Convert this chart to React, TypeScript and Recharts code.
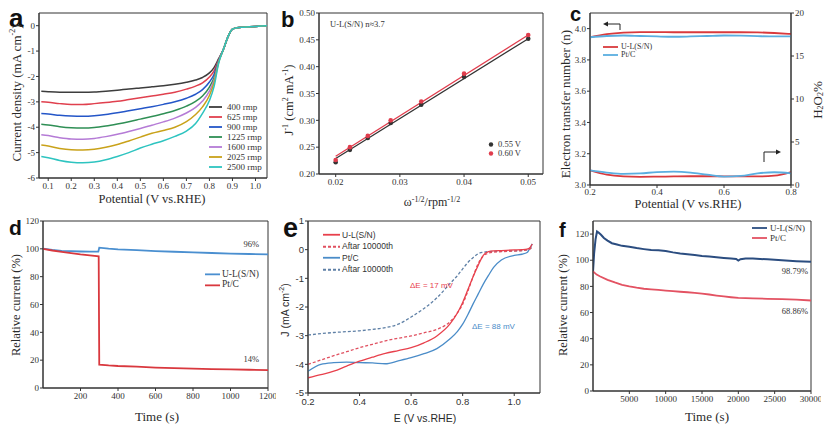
import React from "react";
import {
  ComposedChart,
  Line,
  Scatter,
  XAxis,
  YAxis,
  Legend,
  ReferenceArea,
} from "recharts";

const SERIF = '"Liberation Serif", "Times New Roman", serif';
const SANS = '"Liberation Sans", Arial, sans-serif';
const AX = "#333";

// ---- (a) LSV curves at different rotation rates
const POT_A = [0.07, 0.1, 0.15, 0.2, 0.25, 0.3, 0.35, 0.4, 0.45, 0.5, 0.55, 0.6, 0.65, 0.7, 0.74, 0.77, 0.8, 0.82, 0.84, 0.86, 0.88, 0.9, 0.92, 0.95, 1.0, 1.05];
const J_400 = [-2.58, -2.6, -2.62, -2.62, -2.62, -2.61, -2.58, -2.54, -2.49, -2.45, -2.41, -2.37, -2.31, -2.23, -2.14, -2.04, -1.86, -1.65, -1.3, -0.95, -0.45, -0.14, -0.08, -0.06, -0.03, 0];
const J_625 = [-3.0, -3.02, -3.07, -3.1, -3.1, -3.07, -3.03, -2.98, -2.91, -2.84, -2.77, -2.7, -2.62, -2.5, -2.38, -2.25, -2.02, -1.78, -1.34, -0.95, -0.45, -0.14, -0.08, -0.06, -0.03, 0];
const J_900 = [-3.46, -3.48, -3.53, -3.56, -3.57, -3.55, -3.5, -3.43, -3.35, -3.27, -3.19, -3.1, -3.0, -2.86, -2.7, -2.52, -2.22, -1.92, -1.37, -0.95, -0.45, -0.14, -0.08, -0.06, -0.03, 0];
const J_1225 = [-3.88, -3.91, -3.98, -4.02, -4.03, -4.01, -3.95, -3.87, -3.78, -3.68, -3.58, -3.47, -3.34, -3.17, -2.98, -2.77, -2.42, -2.05, -1.4, -0.95, -0.45, -0.14, -0.08, -0.06, -0.03, 0];
const J_1600 = [-4.3, -4.33, -4.41, -4.46, -4.47, -4.44, -4.37, -4.28, -4.17, -4.05, -3.92, -3.79, -3.64, -3.44, -3.22, -2.97, -2.58, -2.15, -1.42, -0.95, -0.45, -0.14, -0.08, -0.06, -0.03, 0];
const J_2025 = [-4.7, -4.74, -4.84, -4.89, -4.9, -4.87, -4.79, -4.68, -4.54, -4.39, -4.24, -4.13, -4.0, -3.78, -3.5, -3.2, -2.75, -2.25, -1.45, -0.95, -0.45, -0.14, -0.08, -0.06, -0.03, 0];
const J_2500 = [-5.15, -5.2, -5.31, -5.38, -5.4, -5.37, -5.28, -5.15, -5.0, -4.82, -4.67, -4.53, -4.36, -4.15, -3.85, -3.45, -2.95, -2.4, -1.48, -0.95, -0.45, -0.14, -0.08, -0.06, -0.03, 0];
const RPM_SERIES = [J_400, J_625, J_900, J_1225, J_1600, J_2025, J_2500];
const RPM_LABELS = ["400 rmp", "625 rmp", "900 rmp", "1225 rmp", "1600 rmp", "2025 rmp", "2500 rmp"];
const RPM_COLORS = ["#3d3d3d", "#e0404e", "#2456c8", "#2f8f55", "#b57bd6", "#c9a21a", "#2ec4c0"];

// ---- (b) K-L plots
const OMEGA_B = [0.02, 0.02222, 0.025, 0.02857, 0.03333, 0.04, 0.05];
const JINV_055 = [0.222, 0.245, 0.267, 0.295, 0.329, 0.381, 0.452];
const JINV_060 = [0.226, 0.25, 0.271, 0.3, 0.335, 0.387, 0.459];
const FIT_X = [0.02, 0.05];
const FIT_055 = [0.229, 0.452];
const FIT_060 = [0.233, 0.459];

// ---- (c) electron transfer number and H2O2 yield
const POT_C = [0.2, 0.25, 0.3, 0.35, 0.4, 0.45, 0.5, 0.55, 0.6, 0.65, 0.7, 0.75, 0.8];
const N_UL = [3.945, 3.965, 3.975, 3.978, 3.978, 3.977, 3.977, 3.977, 3.977, 3.977, 3.976, 3.972, 3.966];
const N_PT = [3.945, 3.953, 3.956, 3.953, 3.95, 3.948, 3.95, 3.953, 3.956, 3.955, 3.952, 3.95, 3.95];
const H2O2_UL = [1.7, 1.2, 1.0, 0.95, 0.97, 1.0, 1.02, 1.02, 1.01, 1.0, 1.0, 1.08, 1.5];
const H2O2_PT = [1.7, 1.45, 1.3, 1.35, 1.5, 1.55, 1.45, 1.2, 0.98, 1.05, 1.35, 1.48, 1.36];

// ---- (d) chronoamperometry with methanol
const TIME_D_UL = [0, 50, 100, 150, 200, 250, 295, 300, 350, 400, 500, 600, 700, 800, 900, 1000, 1100, 1200];
const REL_D_UL = [100.2, 99.2, 98.6, 98.3, 98.1, 98, 98, 100.8, 100.1, 99.6, 99, 98.4, 97.9, 97.4, 97, 96.6, 96.3, 96];
const TIME_D_PT = [0, 50, 100, 150, 200, 250, 297, 300, 350, 400, 500, 600, 700, 800, 900, 1000, 1100, 1200];
const REL_D_PT = [100, 98.8, 97.8, 96.9, 96, 95.3, 94.6, 16.8, 16.2, 15.8, 15.3, 14.7, 14.3, 13.9, 13.6, 13.4, 13.1, 12.9];

// ---- (e) LSV before / after 10000 cycles
const POT_E = [0.2, 0.25, 0.3, 0.35, 0.4, 0.45, 0.5, 0.55, 0.6, 0.65, 0.7, 0.75, 0.78, 0.8, 0.82, 0.84, 0.86, 0.88, 0.9, 0.92, 0.95, 1.0, 1.03, 1.05, 1.06, 1.07];
const J_UL = [-4.47, -4.36, -4.24, -4.06, -3.89, -3.75, -3.62, -3.52, -3.42, -3.25, -3.01, -2.6, -2.2, -1.84, -1.4, -0.95, -0.55, -0.2, -0.07, -0.04, -0.03, -0.01, 0, 0.02, 0.06, 0.2];
const J_UL_AFTER = [-4.0, -3.85, -3.7, -3.56, -3.42, -3.3, -3.18, -3.09, -3.01, -2.9, -2.78, -2.52, -2.2, -1.9, -1.45, -0.95, -0.49, -0.22, -0.12, -0.09, -0.07, -0.05, -0.03, -0.01, 0.02, 0.1];
const J_PT = [-4.24, -4.0, -3.94, -3.92, -3.94, -3.95, -3.98, -3.88, -3.77, -3.63, -3.45, -3.12, -2.85, -2.6, -2.27, -1.9, -1.55, -1.2, -0.9, -0.62, -0.36, -0.2, -0.16, -0.1, 0.04, 0.2];
const J_PT_AFTER = [-2.98, -2.93, -2.89, -2.86, -2.83, -2.78, -2.72, -2.6, -2.35, -2.05, -1.68, -1.19, -0.9, -0.67, -0.45, -0.28, -0.14, -0.09, -0.07, -0.06, -0.05, -0.04, -0.03, -0.01, 0.02, 0.1];

// ---- (f) long-term stability
const TIME_F_UL = [0, 150, 350, 550, 800, 1100, 1500, 2000, 2600, 3300, 4000, 5000, 6000, 7000, 8000, 9000, 10000, 11000, 12000, 13000, 14000, 15000, 16000, 17000, 18000, 19000, 19700, 20000, 20300, 21000, 22000, 23000, 24000, 25000, 26000, 27000, 28000, 29000, 30000];
const REL_F_UL = [91, 105, 116, 122, 121, 119.5, 117, 115, 113, 112, 111, 110.3, 109.3, 108.5, 107.8, 107.6, 107, 106, 105.2, 104.6, 104, 103.3, 102.8, 102.2, 101.7, 101.3, 101, 99.8, 100.8, 101.4, 101.3, 101, 100.7, 100.3, 100, 99.6, 99.3, 99, 98.8];
const TIME_F_PT = [0, 500, 1000, 2000, 3000, 4000, 5000, 6000, 7000, 8000, 9000, 10000, 11000, 12000, 13000, 14000, 15000, 16000, 17000, 18000, 19000, 20000, 22000, 24000, 26000, 28000, 30000];
const REL_F_PT = [91.5, 89, 87.6, 85, 83, 81.2, 80, 79, 78.2, 77.7, 77.3, 76.8, 76.3, 75.9, 75.5, 75, 74.4, 73.8, 73, 72.3, 71.7, 71.2, 70.8, 70.5, 70.2, 69.8, 69.2];

const pairs = (xs: number[], ys: number[]) => xs.map((x, i) => ({ x, y: ys[i] }));

const rowsA = POT_A.map((x, i) => {
  const row: Record<string, number> = { x };
  RPM_SERIES.forEach((s, k) => (row[`r${k}`] = s[i]));
  return row;
});
const rowsC = POT_C.map((x, i) => ({ x, nUL: N_UL[i], nPT: N_PT[i], hUL: H2O2_UL[i], hPT: H2O2_PT[i] }));
const rowsE = POT_E.map((x, i) => ({ x, ul: J_UL[i], ulA: J_UL_AFTER[i], pt: J_PT[i], ptA: J_PT_AFTER[i] }));

type Item = { name: string; color: string; dash?: string; dot?: boolean };

function LegendList({ items, font, size, rowH, lineW, gap }: { items: Item[]; font: string; size: number; rowH: number; lineW: number; gap: number }) {
  return (
    <div style={{ fontFamily: font, fontSize: size, color: "#333" }}>
      {items.map((it) => (
        <div key={it.name + it.color} style={{ display: "flex", alignItems: "center", height: rowH }}>
          <svg width={lineW} height={rowH} style={{ display: "block" }}>
            {it.dot ? (
              <circle cx={lineW / 2} cy={rowH / 2} r={2.2} fill={it.color} />
            ) : (
              <line x1={0} x2={lineW} y1={rowH / 2} y2={rowH / 2} stroke={it.color} strokeWidth={1.8} strokeDasharray={it.dash} />
            )}
          </svg>
          <span style={{ marginLeft: gap, whiteSpace: "nowrap", lineHeight: 1 }}>{it.name}</span>
        </div>
      ))}
    </div>
  );
}

const tickSerif = { fontFamily: SERIF, fontSize: 9, fill: AX };
const tickSans = { fontFamily: SANS, fontSize: 9.5, fill: AX };

const at = (left: number, top: number): React.CSSProperties => ({ position: "absolute", left, top });

const dotShape = (color: string) => (p: any) => <circle cx={p.cx} cy={p.cy} r={2.3} fill={color} />;

export default function App() {
  return (
    <div style={{ position: "absolute", left: 0, top: 0, width: 831, height: 429, background: "#fff", overflow: "hidden" }}>
      {/* a */}
      <div style={at(0, 0)}>
        <ComposedChart width={273} height={200} data={rowsA} margin={{ top: 13, right: 6, left: 0, bottom: 0 }}>
          <XAxis dataKey="x" type="number" domain={[0.06, 1.05]} ticks={[0.1, 0.2, 0.3, 0.4, 0.5, 0.6, 0.7, 0.8, 0.9, 1.0]} interval={0} tickFormatter={(v) => v.toFixed(1)} tick={tickSerif} tickSize={3} stroke={AX} height={22} allowDataOverflow />
          <YAxis type="number" domain={[-6, 0.5]} ticks={[-6, -5, -4, -3, -2, -1, 0]} interval={0} tick={tickSerif} tickSize={3} tickMargin={1} stroke={AX} width={39} allowDataOverflow />
          <ReferenceArea x1={0.06} x2={1.05} y1={-6} y2={0.5} fill="none" stroke={AX} ifOverflow="visible" />
          {RPM_LABELS.map((name, k) => (
            <Line key={name} dataKey={`r${k}`} name={name} type="monotone" stroke={RPM_COLORS[k]} strokeWidth={1.5} dot={false} isAnimationActive={false} />
          ))}
          <Legend
            layout="vertical"
            align="center"
            verticalAlign="middle"
            wrapperStyle={{ left: 209, top: 102, width: "auto" }}
            content={() => (
              <LegendList items={RPM_LABELS.map((n, k) => ({ name: n, color: RPM_COLORS[k] }))} font={SERIF} size={9} rowH={10} lineW={13} gap={5} />
            )}
          />
        </ComposedChart>
      </div>

      {/* b */}
      <div style={at(275, 0)}>
        <ComposedChart width={274} height={202} margin={{ top: 13, right: 6, left: 0, bottom: 0 }}>
          <XAxis dataKey="x" type="number" domain={[0.0174, 0.0523]} ticks={[0.02, 0.03, 0.04, 0.05]} interval={0} tickFormatter={(v) => v.toFixed(2)} tick={tickSerif} tickSize={3} stroke={AX} height={28} allowDataOverflow />
          <YAxis dataKey="y" type="number" domain={[0.2, 0.5]} ticks={[0.2, 0.25, 0.3, 0.35, 0.4, 0.45, 0.5]} interval={0} tickFormatter={(v) => v.toFixed(2)} tick={tickSerif} tickSize={3} tickMargin={1} stroke={AX} width={44} allowDataOverflow />
          <ReferenceArea x1={0.0174} x2={0.0523} y1={0.2} y2={0.5} fill="none" stroke={AX} ifOverflow="visible" />
          <Line data={pairs(FIT_X, FIT_055)} dataKey="y" name="fit 0.55" stroke="#333" strokeWidth={1.3} dot={false} isAnimationActive={false} legendType="none" />
          <Line data={pairs(FIT_X, FIT_060)} dataKey="y" name="fit 0.60" stroke="#e03c4c" strokeWidth={1.3} dot={false} isAnimationActive={false} legendType="none" />
          <Scatter data={pairs(OMEGA_B, JINV_055)} dataKey="y" name="0.55 V" fill="#333" shape={dotShape("#333")} isAnimationActive={false} />
          <Scatter data={pairs(OMEGA_B, JINV_060)} dataKey="y" name="0.60 V" fill="#e03c4c" shape={dotShape("#e03c4c")} isAnimationActive={false} />
          <Legend
            layout="vertical"
            align="center"
            verticalAlign="middle"
            wrapperStyle={{ left: 212, top: 140, width: "auto" }}
            content={() => (
              <LegendList items={[{ name: "0.55 V", color: "#333", dot: true }, { name: "0.60 V", color: "#e03c4c", dot: true }]} font={SERIF} size={8.5} rowH={9} lineW={8} gap={3} />
            )}
          />
        </ComposedChart>
      </div>

      {/* c */}
      <div style={at(550, 0)}>
        <ComposedChart width={269} height={203} data={rowsC} margin={{ top: 13, right: 0, left: 0, bottom: 0 }}>
          <XAxis dataKey="x" type="number" domain={[0.2, 0.8]} ticks={[0.2, 0.4, 0.6, 0.8]} interval={0} tickFormatter={(v) => v.toFixed(1)} tick={tickSerif} tickSize={3} tickMargin={1} stroke={AX} height={18} allowDataOverflow />
          <YAxis yAxisId="n" type="number" domain={[3.0, 4.1]} ticks={[3.0, 3.2, 3.4, 3.6, 3.8, 4.0]} interval={0} tickFormatter={(v) => v.toFixed(1)} tick={tickSerif} tickSize={3} tickMargin={1} stroke={AX} width={40} allowDataOverflow />
          <YAxis yAxisId="h" orientation="right" type="number" domain={[0, 20]} ticks={[0, 5, 10, 15, 20]} interval={0} tick={tickSerif} tickSize={3} tickMargin={1} stroke={AX} width={28} allowDataOverflow />
          <ReferenceArea yAxisId="n" x1={0.2} x2={0.8} y1={3.0} y2={4.1} fill="none" stroke={AX} ifOverflow="visible" />
          <Line yAxisId="n" dataKey="nUL" name="U-L(S/N)" type="monotone" stroke="#d93a3d" strokeWidth={1.8} dot={false} isAnimationActive={false} />
          <Line yAxisId="n" dataKey="nPT" name="Pt/C" type="monotone" stroke="#5aaee0" strokeWidth={1.8} dot={false} isAnimationActive={false} />
          <Line yAxisId="h" dataKey="hUL" name="U-L(S/N) H2O2" type="monotone" stroke="#d93a3d" strokeWidth={1.8} dot={false} isAnimationActive={false} legendType="none" />
          <Line yAxisId="h" dataKey="hPT" name="Pt/C H2O2" type="monotone" stroke="#5aaee0" strokeWidth={1.8} dot={false} isAnimationActive={false} legendType="none" />
          <Legend
            layout="vertical"
            align="center"
            verticalAlign="middle"
            wrapperStyle={{ left: 53, top: 43, width: "auto" }}
            content={() => (
              <LegendList items={[{ name: "U-L(S/N)", color: "#d93a3d" }, { name: "Pt/C", color: "#5aaee0" }]} font={SERIF} size={8} rowH={8} lineW={15} gap={3} />
            )}
          />
        </ComposedChart>
      </div>

      {/* d */}
      <div style={at(0, 210)}>
        <ComposedChart width={276} height={200} margin={{ top: 11, right: 8, left: 0, bottom: 0 }}>
          <XAxis dataKey="x" type="number" domain={[0, 1200]} ticks={[200, 400, 600, 800, 1000, 1200]} interval={0} tick={tickSerif} tickSize={3} stroke={AX} height={22} allowDataOverflow />
          <YAxis type="number" domain={[0, 120]} ticks={[0, 20, 40, 60, 80, 100, 120]} interval={0} tick={tickSerif} tickSize={3} tickMargin={1} stroke={AX} width={43} allowDataOverflow />
          <ReferenceArea x1={0} x2={1200} y1={0} y2={120} fill="none" stroke={AX} ifOverflow="visible" />
          <Line data={pairs(TIME_D_UL, REL_D_UL)} dataKey="y" name="U-L(S/N)" stroke="#4a8fd0" strokeWidth={1.8} dot={false} isAnimationActive={false} />
          <Line data={pairs(TIME_D_PT, REL_D_PT)} dataKey="y" name="Pt/C" stroke="#d9383e" strokeWidth={1.8} dot={false} isAnimationActive={false} />
          <Legend
            layout="vertical"
            align="center"
            verticalAlign="middle"
            wrapperStyle={{ left: 205, top: 59, width: "auto" }}
            content={() => (
              <LegendList items={[{ name: "U-L(S/N)", color: "#4a8fd0" }, { name: "Pt/C", color: "#d9383e" }]} font={SERIF} size={9.5} rowH={10.7} lineW={15} gap={2} />
            )}
          />
        </ComposedChart>
      </div>

      {/* e */}
      <div style={at(275, 210)}>
        <ComposedChart width={273} height={203} data={rowsE} margin={{ top: 11, right: 8, left: 0, bottom: 0 }}>
          <XAxis dataKey="x" type="number" domain={[0.2, 1.1]} ticks={[0.2, 0.4, 0.6, 0.8, 1.0]} interval={0} tickFormatter={(v) => v.toFixed(1)} tick={tickSans} tickSize={3} stroke={AX} height={20} allowDataOverflow />
          <YAxis type="number" domain={[-5, 1]} ticks={[-5, -4, -3, -2, -1, 0, 1]} interval={0} tick={tickSans} tickSize={3} tickMargin={1} stroke={AX} width={33} allowDataOverflow />
          <ReferenceArea x1={0.2} x2={1.1} y1={-5} y2={1} fill="none" stroke={AX} ifOverflow="visible" />
          <Line dataKey="ptA" name="Aftar 10000th (Pt/C)" type="monotone" stroke="#5f80a6" strokeWidth={1.3} strokeDasharray="3 2" dot={false} isAnimationActive={false} />
          <Line dataKey="pt" name="Pt/C" type="monotone" stroke="#4a8cc8" strokeWidth={1.3} dot={false} isAnimationActive={false} />
          <Line dataKey="ulA" name="Aftar 10000th" type="monotone" stroke="#e05060" strokeWidth={1.3} strokeDasharray="3 2" dot={false} isAnimationActive={false} />
          <Line dataKey="ul" name="U-L(S/N)" type="monotone" stroke="#e8404c" strokeWidth={1.3} dot={false} isAnimationActive={false} />
          <Legend
            layout="vertical"
            align="center"
            verticalAlign="middle"
            wrapperStyle={{ left: 48, top: 19, width: "auto" }}
            content={() => (
              <LegendList
                items={[
                  { name: "U-L(S/N)", color: "#e8404c" },
                  { name: "Aftar 10000th", color: "#e05060", dash: "3 2" },
                  { name: "Pt/C", color: "#4a8cc8" },
                  { name: "Aftar 10000th", color: "#5f80a6", dash: "3 2" },
                ]}
                font={SANS}
                size={8.5}
                rowH={11.5}
                lineW={17}
                gap={2}
              />
            )}
          />
        </ComposedChart>
      </div>

      {/* f */}
      <div style={at(550, 210)}>
        <ComposedChart width={271} height={201} margin={{ top: 11, right: 10, left: 0, bottom: 0 }}>
          <XAxis dataKey="x" type="number" domain={[0, 30000]} ticks={[5000, 10000, 15000, 20000, 25000, 30000]} interval={0} tick={tickSerif} tickSize={3} stroke={AX} height={20} allowDataOverflow />
          <YAxis type="number" domain={[0, 130]} ticks={[0, 20, 40, 60, 80, 100, 120]} interval={0} tick={tickSerif} tickSize={3} tickMargin={1} stroke={AX} width={43} allowDataOverflow />
          <ReferenceArea x1={0} x2={30000} y1={0} y2={130} fill="none" stroke={AX} ifOverflow="visible" />
          <Line data={pairs(TIME_F_UL, REL_F_UL)} dataKey="y" name="U-L(S/N)" stroke="#2b4d80" strokeWidth={2} dot={false} isAnimationActive={false} />
          <Line data={pairs(TIME_F_PT, REL_F_PT)} dataKey="y" name="Pt/C" stroke="#e35262" strokeWidth={1.8} dot={false} isAnimationActive={false} />
          <Legend
            layout="vertical"
            align="center"
            verticalAlign="middle"
            wrapperStyle={{ left: 202, top: 13, width: "auto" }}
            content={() => (
              <LegendList items={[{ name: "U-L(S/N)", color: "#2b4d80" }, { name: "Pt/C", color: "#e35262" }]} font={SERIF} size={9} rowH={10} lineW={15} gap={3} />
            )}
          />
        </ComposedChart>
      </div>

      {/* titles, panel letters and annotations */}
      <svg width={831} height={429} style={{ position: "absolute", left: 0, top: 0, pointerEvents: "none" }}>
        <g fontFamily={SANS} fontWeight="bold" fill="#111">
          <text x={9} y={27} fontSize={26}>a</text>
          <text x={281} y={27} fontSize={22}>b</text>
          <text x={570} y={21} fontSize={20}>c</text>
          <text x={9} y={235} fontSize={21}>d</text>
          <text x={283} y={237} fontSize={27}>e</text>
          <text x={559} y={237} fontSize={20}>f</text>
        </g>

        <g fontFamily={SERIF} fill="#2a2a2a" textAnchor="middle">
          <text x={152} y={203} fontSize={12.5}>Potential (V vs.RHE)</text>
          <text x={432} y={206} fontSize={12}>
            <tspan>ω</tspan>
            <tspan dy={-4.5} fontSize={8}>-1/2</tspan>
            <tspan dy={4.5}>/rpm</tspan>
            <tspan dy={-4.5} fontSize={8}>-1/2</tspan>
          </text>
          <text x={688} y={208} fontSize={12.5}>Potential (V vs.RHE)</text>
          <text x={157} y={421} fontSize={13}>Time (s)</text>
          <text x={707} y={421} fontSize={13}>Time (s)</text>

          <text x={16} y={93} fontSize={13} dominantBaseline="central" transform="rotate(-90 16 93)">
            <tspan>Current density (mA cm</tspan>
            <tspan dy={-4.5} fontSize={8}>-2</tspan>
            <tspan dy={4.5}>)</tspan>
          </text>
          <text x={289} y={100} fontSize={12.5} dominantBaseline="central" transform="rotate(-90 289 100)">
            <tspan>J</tspan>
            <tspan dy={-4.5} fontSize={8}>-1</tspan>
            <tspan dy={4.5}> (cm</tspan>
            <tspan dy={-4.5} fontSize={8}>2</tspan>
            <tspan dy={4.5}> mA</tspan>
            <tspan dy={-4.5} fontSize={8}>-1</tspan>
            <tspan dy={4.5}>)</tspan>
          </text>
          <text x={565} y={104} fontSize={13} dominantBaseline="central" transform="rotate(-90 565 104)">
            Electron transfer number (n)
          </text>
          <text x={817} y={100} fontSize={13} dominantBaseline="central" transform="rotate(-90 817 100)">
            <tspan>H</tspan>
            <tspan dy={3} fontSize={8}>2</tspan>
            <tspan dy={-3}>O</tspan>
            <tspan dy={3} fontSize={8}>2</tspan>
            <tspan dy={-3}>%</tspan>
          </text>
          <text x={16} y={305} fontSize={12.5} dominantBaseline="central" transform="rotate(-90 16 305)">
            Relative current (%)
          </text>
          <text x={563} y={305} fontSize={12.5} dominantBaseline="central" transform="rotate(-90 563 305)">
            Relative current (%)
          </text>
        </g>

        <g fontFamily={SANS} fill="#2a2a2a" textAnchor="middle">
          <text x={425} y={422} fontSize={10.5}>E (V vs.RHE)</text>
          <text x={285} y={310} fontSize={10.5} dominantBaseline="central" transform="rotate(-90 285 310)">
            <tspan>J (mA cm</tspan>
            <tspan dy={-4} fontSize={7}>-2</tspan>
            <tspan dy={4}>)</tspan>
          </text>
        </g>

        <g fontFamily={SERIF} fontSize={8.5} fill="#333">
          <text x={330} y={27}>U-L(S/N) n≈3.7</text>
          <text x={259} y={247} textAnchor="end">96%</text>
          <text x={259} y={362} textAnchor="end">14%</text>
          <text x={808} y={274} textAnchor="end">98.79%</text>
          <text x={808} y={314} textAnchor="end">68.86%</text>
        </g>
        <g fontFamily={SANS} fontSize={8}>
          <text x={410} y={288} fill="#e8404c">ΔE = 17 mV</text>
          <text x={472} y={329} fill="#4a8cc8">ΔE = 88 mV</text>
        </g>

        {/* direction arrows in c */}
        <g stroke="#222" strokeWidth={1} fill="none">
          <path d="M620,30 L620,24 L607,24" />
          <path d="M764,162 L764,152 L777,152" />
        </g>
        <g fill="#222">
          <polygon points="603,24 608,21.5 608,26.5" />
          <polygon points="781,152 776,149.5 776,154.5" />
        </g>
      </svg>
    </div>
  );
}
